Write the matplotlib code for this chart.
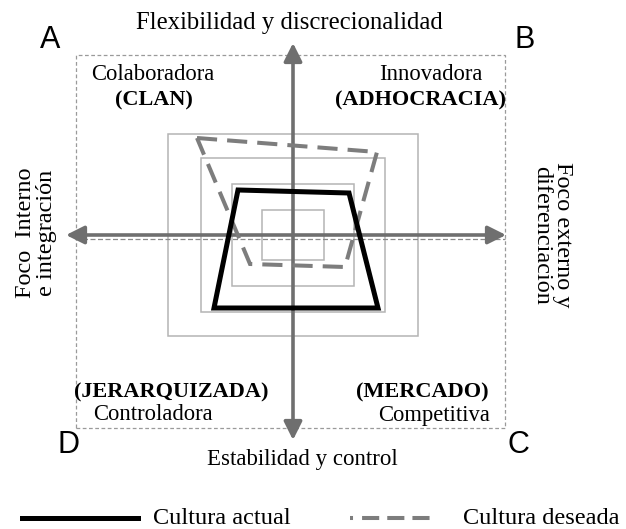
"""Competing values framework diagram: current vs desired culture."""

import matplotlib

matplotlib.use("Agg")
import matplotlib.pyplot as plt
from matplotlib.patches import Rectangle

# concentric reference squares (half width, half height)
square_half_w = [31, 61, 92, 125]
square_half_h = [25, 51, 77, 101]

# current culture (solid) and desired culture (dashed) polygons
actual_x = [-55, 56, 85, -79]
actual_y = [45, 42, -73, -73]
desired_x = [-96, 84, 52, -43]
desired_y = [97, 83, -32, -29]

quadrant_names = ["Colaboradora", "Innovadora", "Controladora", "Competitiva"]
quadrant_types = ["(CLAN)", "(ADHOCRACIA)", "(JERARQUIZADA)", "(MERCADO)"]
corner_letters = ["A", "B", "D", "C"]

SERIF = "Liberation Serif"
SANS = "Liberation Sans"
ARROW_GRAY = "#6f6f6f"
DASH_GRAY = "#7d7d7d"

fig = plt.figure(figsize=(6.26, 5.29), dpi=100)
ax = fig.add_axes([0, 0, 1, 1])
ax.set_xlim(-293, 333)
ax.set_ylim(-294, 235)
ax.axis("off")

# dotted outer frame
ax.add_patch(Rectangle((-217, -193), 429, 373, fill=False, ec="#9a9a9a",
                       lw=0.9, ls=(0, (3, 2))))

for hw, hh in zip(square_half_w, square_half_h):
    ax.add_patch(Rectangle((-hw, -hh), 2 * hw, 2 * hh, fill=False,
                           ec="#b4b4b4", lw=1.1, zorder=2))

# thin dashed line just below the horizontal axis
ax.plot([-218, 212], [-4, -4], color="#8a8a8a", lw=0.9, ls=(0, (4, 2)), zorder=2)

arrow_style = dict(arrowstyle="<|-|>,head_length=1.1,head_width=0.55",
                   color=ARROW_GRAY, lw=2.6, shrinkA=0, shrinkB=0)
ax.annotate("", xy=(0, 192), xytext=(0, -205), arrowprops=arrow_style, zorder=3)
ax.annotate("", xy=(-227, 0), xytext=(213, 0), arrowprops=arrow_style, zorder=3)

ax.fill(desired_x, desired_y, fill=False, ec=DASH_GRAY, lw=2.9,
        ls=(0, (5, 2.5)), zorder=4)
ax.fill(actual_x, actual_y, fill=False, ec="black", lw=3.6, zorder=5,
        joinstyle="miter")

# axis titles
ax.text(-4, 212, "Flexibilidad y discrecionalidad", family=SERIF, size=17.8,
        ha="center", va="center")
ax.text(9, -225, "Estabilidad y control", family=SERIF, size=16.5,
        ha="center", va="center")
ax.text(-257, 2, "Foco  Interno\ne integración", family=SERIF, size=17.5,
        ha="center", va="center", rotation=90, linespacing=0.95)
ax.text(259, 0, "Foco externo y\ndiferenciación", family=SERIF, size=17.5,
        ha="center", va="center", rotation=270, linespacing=0.95)

# corner letters
for letter, (lx, ly) in zip(corner_letters,
                            [(-243, 195), (232, 195), (-225, -210), (225, -210)]):
    ax.text(lx, ly, letter, family=SANS, size=22, ha="center", va="center")

# quadrant labels
name_pos = [(-140, 160), (138, 160), (-140, -180), (141, -180)]
type_pos = [(-139, 135), (128, 135), (-122, -157), (129, -157)]
for name, (nx, ny) in zip(quadrant_names, name_pos):
    ax.text(nx, ny, name, family=SERIF, size=16.3, ha="center", va="center")
for kind, (tx, ty) in zip(quadrant_types, type_pos):
    ax.text(tx, ty, kind, family=SERIF, size=16, weight="bold",
            ha="center", va="center")

# legend
ax.plot([-271, -155], [-283, -283], color="black", lw=3.6)
ax.text(-140, -283, "Cultura actual", family=SERIF, size=17.5, va="center")
ax.plot([57, 137], [-283, -283], color=DASH_GRAY, lw=2.9,
        ls=(0, (0.75, 2.25, 4.25, 2, 4.25, 2, 4.25, 10)))
ax.text(170, -283, "Cultura deseada", family=SERIF, size=17.5, va="center")

fig.savefig("out.png", dpi=100)
